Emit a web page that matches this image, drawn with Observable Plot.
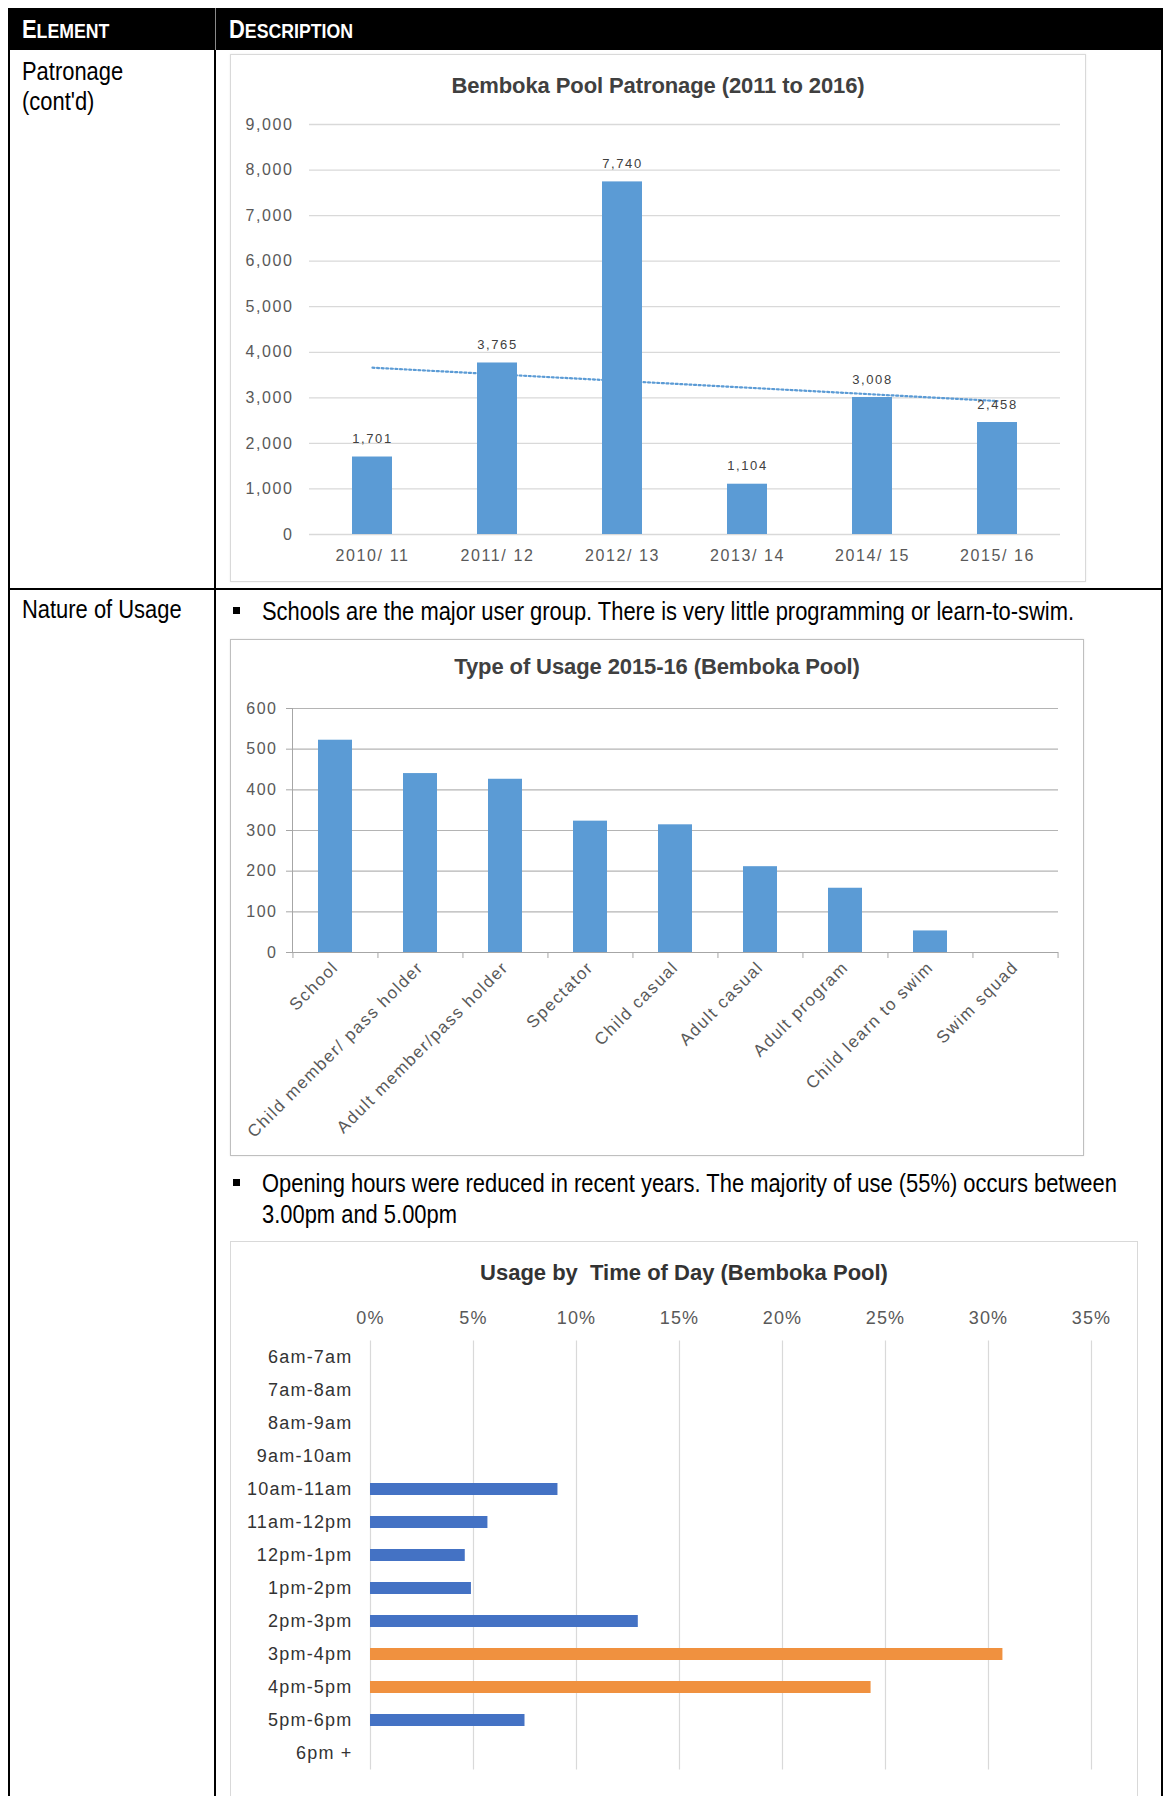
<!DOCTYPE html>
<html>
<head>
<meta charset="utf-8">
<script src="https://cdn.jsdelivr.net/npm/d3@7"></script>
<script src="https://cdn.jsdelivr.net/npm/@observablehq/plot@0.6"></script>
<style>
  html, body { margin: 0; padding: 0; background: #fff; }
  #page { position: relative; width: 1163px; height: 1796px; overflow: hidden; background: #fff;
          font-family: "Liberation Sans", Arial, sans-serif; color: #000; }
  .abs { position: absolute; }
  /* condensed text face: regular glyphs squeezed horizontally */
  .narrow { transform: scaleX(0.843); transform-origin: 0 50%; }
  .body-text { font-size: 26px; line-height: 30px; white-space: nowrap; }
  .chart-title { font-weight: bold; color: #404040; font-size: 22px; line-height: 24px;
                 text-align: center; white-space: nowrap; }
  svg { overflow: visible; }
</style>
</head>
<body>
<div id="page"></div>
<script>
// ---- Patronage by financial year ----
const seasons = ["2010/ 11", "2011/ 12", "2012/ 13", "2013/ 14", "2014/ 15", "2015/ 16"];
const patronage = [1701, 3765, 7740, 1104, 3008, 2458];
const patronageTicks = [0, 1000, 2000, 3000, 4000, 5000, 6000, 7000, 8000, 9000];

// ---- Type of usage 2015-16 ----
const usageTypes = ["School", "Child member/ pass holder", "Adult member/pass holder", "Spectator",
  "Child casual", "Adult casual", "Adult program", "Child learn to swim", "Swim squad"];
const usageCounts = [522, 440, 426, 323, 314, 211, 158, 53, 0];
const usageTicks = [0, 100, 200, 300, 400, 500, 600];

// ---- Usage by time of day ----
const timeSlots = ["6am-7am", "7am-8am", "8am-9am", "9am-10am", "10am-11am", "11am-12pm", "12pm-1pm",
  "1pm-2pm", "2pm-3pm", "3pm-4pm", "4pm-5pm", "5pm-6pm", "6pm +"];
const timeShare = [0, 0, 0, 0, 0.091, 0.057, 0.046, 0.049, 0.130, 0.307, 0.243, 0.075, 0];
const peakSlots = ["3pm-4pm", "4pm-5pm"];
const shareTicks = [0, 0.05, 0.10, 0.15, 0.20, 0.25, 0.30, 0.35];

const page = document.getElementById("page");

function rect(left, top, w, h, css = {}) {
  const d = document.createElement("div");
  d.className = "abs";
  Object.assign(d.style, {left: left + "px", top: top + "px", width: w + "px", height: h + "px"}, css);
  page.appendChild(d);
  return d;
}
function label(html, left, top, cls, css = {}) {
  const d = document.createElement("div");
  d.className = "abs " + cls;
  d.innerHTML = html;
  Object.assign(d.style, {left: left + "px", top: top + "px"}, css);
  page.appendChild(d);
  return d;
}
function mount(svg, left, top) {
  const wrap = document.createElement("div");
  wrap.className = "abs";
  Object.assign(wrap.style, {left: left + "px", top: top + "px"});
  wrap.appendChild(svg);
  page.appendChild(wrap);
}

// ---- table frame ----
rect(8, 8, 1155, 42, {background: "#000"});
rect(8, 8, 2, 1788, {background: "#000"});
rect(1161, 8, 2, 1788, {background: "#000"});
rect(214, 50, 2, 1746, {background: "#000"});
rect(215, 8, 1, 42, {background: "#8a8a8a"});
rect(8, 588, 1155, 2, {background: "#000"});

const capStyle = {color: "#fff", fontWeight: "bold", fontSize: "26px", lineHeight: "30px", whiteSpace: "nowrap"};
label('E<span style="font-size:21px">LEMENT</span>', 22, 14, "narrow", capStyle);
label('D<span style="font-size:21px">ESCRIPTION</span>', 229, 14, "narrow", capStyle);

label("Patronage", 22, 56, "body-text narrow");
label("(cont'd)", 22, 86, "body-text narrow");
label("Nature of Usage", 22, 594, "body-text narrow");

rect(233, 607, 7, 7, {background: "#000"});
label("Schools are the major user group. There is very little programming or learn-to-swim.", 262, 596, "body-text narrow");
rect(233, 1179, 7, 7, {background: "#000"});
label("Opening hours were reduced in recent years. The majority of use (55%) occurs between", 262, 1168, "body-text narrow");
label("3.00pm and 5.00pm", 262, 1199, "body-text narrow");

const comma = d3.format(",");
const chartFont = "'Liberation Sans', Arial, sans-serif";

// ---- Chart 1: patronage columns with linear trend ----
const patronageRows = seasons.map((season, i) => ({season, visits: patronage[i]}));
const mx = d3.mean(patronage, (_, i) => i);
const my = d3.mean(patronage);
const slope = d3.sum(patronage, (v, i) => (i - mx) * (v - my)) / d3.sum(patronage, (_, i) => (i - mx) ** 2);
const trendRows = seasons.map((season, i) => ({season, trend: my + slope * (i - mx)}));

rect(230, 54, 856, 528, {border: "1px solid #d9d9d9", boxSizing: "border-box", boxShadow: "0 0 2px rgba(0,0,0,0.08)"});
const chart1 = Plot.plot({
  width: 856, height: 528,
  marginTop: 70, marginBottom: 48, marginLeft: 79, marginRight: 26,
  style: {fontFamily: chartFont, fontSize: "16px", letterSpacing: "1.6px", color: "#595959", background: "none", overflow: "visible"},
  x: {type: "band", domain: seasons, paddingInner: 0.68, paddingOuter: 0.34, label: null},
  y: {domain: [0, 9000], label: null},
  marks: [
    Plot.ruleY(patronageTicks, {stroke: "#d9d9d9", strokeWidth: 1.3}),
    Plot.line(trendRows, {x: "season", y: "trend", stroke: "#5b9bd5", strokeWidth: 2.2, strokeDasharray: "2 2.6"}),
    Plot.barY(patronageRows, {x: "season", y: "visits", fill: "#5b9bd5"}),
    Plot.text(patronageRows, {x: "season", y: "visits", text: d => comma(d.visits), dy: -18, fontSize: 13, fill: "#404040"}),
    Plot.axisY(patronageTicks, {tickFormat: comma, tickSize: 0, tickPadding: 16, fontSize: 16, label: null}),
    Plot.axisX({tickSize: 0, tickPadding: 15, fontSize: 16, label: null})
  ]
});
mount(chart1, 230, 54);
label("Bemboka Pool Patronage (2011 to 2016)", 230, 74, "chart-title", {width: "856px", letterSpacing: "-0.1px"});

// ---- Chart 2: type of usage columns ----
const usageRows = usageTypes.map((type, i) => ({type, count: usageCounts[i]}));
const c2 = {width: 854, height: 519, top: 71, bottom: 204, left: 62, right: 26};
const c2Step = (c2.width - c2.left - c2.right) / usageTypes.length;
const c2Tick = 6 / ((c2.height - c2.top - c2.bottom) / 600);

rect(230, 639, 854, 517, {border: "1px solid #bfbfbf", boxSizing: "border-box", boxShadow: "0 0 2px rgba(0,0,0,0.1)"});
const chart2 = Plot.plot({
  width: c2.width, height: c2.height,
  marginTop: c2.top, marginBottom: c2.bottom, marginLeft: c2.left, marginRight: c2.right,
  style: {fontFamily: chartFont, fontSize: "16px", letterSpacing: "1.5px", color: "#595959", background: "none", overflow: "visible"},
  x: {type: "band", domain: usageTypes, paddingInner: 0.6, paddingOuter: 0.3, label: null},
  y: {domain: [0, 600], label: null},
  marks: [
    Plot.ruleY(usageTicks, {stroke: "#b4b4b4", strokeWidth: 1.2}),
    Plot.barY(usageRows, {x: "type", y: "count", fill: "#5b9bd5"}),
    Plot.frame({anchor: "left", stroke: "#a6a6a6"}),
    Plot.ruleY([0], {stroke: "#a6a6a6", strokeWidth: 1.2}),
    Plot.ruleX(usageTypes, {x: d => d, y1: 0, y2: -c2Tick, dx: -c2Step / 2, stroke: "#a6a6a6"}),
    Plot.ruleX(usageTypes.slice(-1), {x: d => d, y1: 0, y2: -c2Tick, dx: c2Step / 2, stroke: "#a6a6a6"}),
    Plot.axisY(usageTicks, {tickSize: 6, tickPadding: 9, stroke: "#a6a6a6", fill: "#595959", fontSize: 16, label: null}),
    Plot.axisX({tickSize: 0, tickPadding: 12, tickRotate: -45, fontSize: 17, fill: "#595959", label: null})
  ]
});
mount(chart2, 230, 637);
label("Type of Usage 2015-16 (Bemboka Pool)", 230, 655, "chart-title", {width: "854px", letterSpacing: "-0.1px"});

// ---- Chart 3: usage by time of day ----
const timeRows = timeSlots.map((slot, i) => ({slot, share: timeShare[i], group: peakSlots.includes(slot) ? "peak" : "other"}));

rect(230, 1241, 908, 560, {border: "1px solid #d9d9d9", boxSizing: "border-box"});
const chart3 = Plot.plot({
  width: 908, height: 555,
  marginTop: 99.5, marginBottom: 26.5, marginLeft: 140, marginRight: 47,
  style: {fontFamily: chartFont, fontSize: "18px", letterSpacing: "1.2px", color: "#404040", background: "none", overflow: "visible"},
  x: {domain: [0, 0.35], label: null},
  y: {type: "band", domain: timeSlots, paddingInner: 0.65, paddingOuter: 0.325, label: null},
  color: {domain: ["other", "peak"], range: ["#4472c4", "#f0913f"]},
  marks: [
    Plot.ruleX(shareTicks, {stroke: "#d9d9d9", strokeWidth: 1.2}),
    Plot.barX(timeRows, {x: "share", y: "slot", fill: "group"}),
    Plot.axisX(shareTicks, {anchor: "top", tickSize: 0, tickPadding: 17, tickFormat: d3.format(".0%"), fontSize: 18, fill: "#595959", label: null}),
    Plot.axisY({tickSize: 0, tickPadding: 18, fontSize: 18, fill: "#333", label: null})
  ]
});
mount(chart3, 230, 1241);
label("Usage by&nbsp; Time of Day (Bemboka Pool)", 230, 1261, "chart-title", {width: "908px", color: "#333"});
</script>
</body>
</html>
